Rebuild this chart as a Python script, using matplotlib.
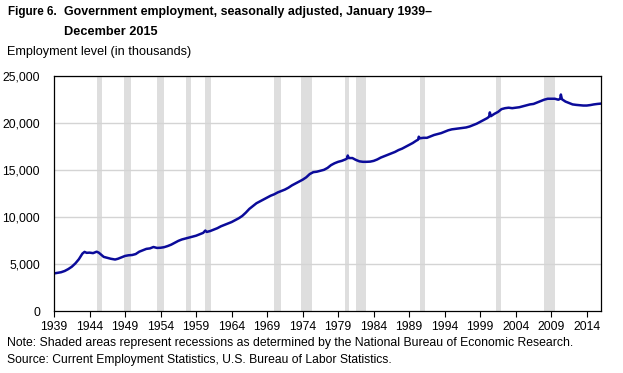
import numpy as np
import matplotlib
matplotlib.use("Agg")
import matplotlib.pyplot as plt

# government employment, thousands
years = [1939.0, 1939.5, 1940.0, 1940.5, 1941.0, 1941.5, 1942.0, 1942.5, 1943.0, 1943.3,
         1943.6, 1944.0, 1944.5, 1945.0, 1945.3, 1945.7, 1946.0, 1946.5, 1947.0, 1947.6,
         1948.0, 1948.5, 1949.0, 1949.5, 1950.0, 1950.5, 1951.0, 1951.5, 1952.0, 1952.5,
         1953.0, 1953.5, 1954.0, 1954.5, 1955.0, 1955.5, 1956.0, 1956.5, 1957.0, 1957.5,
         1958.0, 1958.5, 1959.0, 1959.5, 1960.0, 1960.3, 1960.5, 1961.0, 1961.5, 1962.0,
         1962.5, 1963.0, 1963.5, 1964.0, 1964.5, 1965.0, 1965.5, 1966.0, 1966.5, 1967.0,
         1967.5, 1968.0, 1968.5, 1969.0, 1969.5, 1970.0, 1970.5, 1971.0, 1971.5, 1972.0,
         1972.5, 1973.0, 1973.5, 1974.0, 1974.5, 1975.0, 1975.5, 1976.0, 1976.5, 1977.0,
         1977.5, 1978.0, 1978.5, 1979.0, 1979.5, 1980.0, 1980.25, 1980.35, 1980.5, 1981.0,
         1981.5, 1982.0, 1982.5, 1983.0, 1983.5, 1984.0, 1984.5, 1985.0, 1985.5, 1986.0,
         1986.5, 1987.0, 1987.5, 1988.0, 1988.5, 1989.0, 1989.5, 1990.0, 1990.25, 1990.35,
         1990.5, 1991.0, 1991.5, 1992.0, 1992.5, 1993.0, 1993.5, 1994.0, 1994.5, 1995.0,
         1995.5, 1996.0, 1996.5, 1997.0, 1997.5, 1998.0, 1998.5, 1999.0, 1999.5, 2000.0,
         2000.25, 2000.35, 2000.5, 2001.0, 2001.5, 2002.0, 2002.5, 2003.0, 2003.5, 2004.0,
         2004.5, 2005.0, 2005.5, 2006.0, 2006.5, 2007.0, 2007.5, 2008.0, 2008.5, 2009.0,
         2009.5, 2010.0, 2010.25, 2010.35, 2010.5, 2011.0, 2011.5, 2012.0, 2012.5, 2013.0,
         2013.5, 2014.0, 2014.5, 2015.0, 2015.5, 2015.92]
employment = [3990, 4050, 4120, 4250, 4450, 4700, 5050, 5500, 6100, 6280,
              6180, 6200, 6150, 6300, 6200, 5950, 5750, 5650, 5550, 5470,
              5550, 5700, 5850, 5920, 5950, 6050, 6300, 6450, 6600, 6650,
              6800, 6700, 6720, 6780, 6900, 7050, 7250, 7450, 7600, 7700,
              7800, 7900, 8000, 8150, 8300, 8550, 8400, 8500, 8650, 8800,
              9000, 9150, 9300, 9450, 9650, 9850, 10100, 10450, 10850, 11150,
              11450, 11650, 11850, 12050, 12250, 12400, 12600, 12750, 12900, 13100,
              13350, 13550, 13750, 13950, 14200, 14550, 14750, 14800, 14900, 15000,
              15200, 15500, 15700, 15850, 15950, 16100, 16200, 16520, 16250, 16250,
              16050, 15900, 15850, 15850, 15870, 15950, 16100, 16300, 16450, 16600,
              16750, 16900, 17100, 17250, 17450, 17650, 17850, 18100, 18200, 18520,
              18350, 18400, 18400, 18550, 18700, 18800, 18900, 19050, 19200, 19300,
              19350, 19400, 19450, 19500, 19600, 19750, 19900, 20100, 20300, 20500,
              20650, 21100, 20700, 20950, 21150, 21450, 21550, 21600, 21550, 21600,
              21650, 21750, 21850, 21950, 22000, 22150, 22300, 22450, 22550, 22550,
              22550, 22450, 22550, 23000, 22500, 22250, 22100, 21950, 21900, 21870,
              21830, 21830, 21880, 21950, 22000, 22030]

# NBER recessions (start, end)
rec_start = [1945.08, 1948.83, 1953.50, 1957.58, 1960.25, 1969.92, 1973.83, 1980.0, 1981.5, 1990.5, 2001.17, 2007.92]
rec_end = [1945.75, 1949.83, 1954.42, 1958.33, 1961.17, 1970.92, 1975.25, 1980.58, 1982.92, 1991.25, 2001.92, 2009.5]

xticks = list(range(1939, 2015, 5))
yticks = [0, 5000, 10000, 15000, 20000, 25000]

plt.rcParams['font.family'] = ['Liberation Sans', 'DejaVu Sans']

fig = plt.figure(figsize=(6.23, 3.73), dpi=100)
ax = fig.add_axes([54/623, 1-311/373, (601-54)/623, (311-75.7)/373])

for s, e in zip(rec_start, rec_end):
    ax.axvspan(s, e, color='#dedede', lw=0, zorder=1)

for y in yticks[1:]:
    ax.axhline(y, color='#d4d4d4', lw=1, zorder=1)

ax.plot(years, employment, color='#0b0b9a', lw=1.8, zorder=3)

ax.set_xlim(1939, 2016)
ax.set_ylim(0, 25000)
ax.set_xticks(xticks)
ax.set_xticklabels([str(x) for x in xticks], fontsize=8.8)
ax.set_yticks(yticks)
ax.set_yticklabels(['{:,}'.format(y) for y in yticks], fontsize=8.8)
ax.tick_params(axis='x', direction='out', length=4, width=0.8, pad=3)
ax.tick_params(axis='y', length=0, pad=10)
for sp in ax.spines.values():
    sp.set_linewidth(0.9)
    sp.set_zorder(4)

fig.canvas.draw()
renderer = fig.canvas.get_renderer()


def fit_text(x0, x1, yc, s, **kw):
    # put text from pixel x0, sized so it ends near pixel x1
    t = fig.text(x0/623, 1-yc/373, s, va='center', ha='left', fontsize=10, **kw)
    w = t.get_window_extent(renderer).width
    t.set_fontsize(10 * (x1 - x0) / w)
    return t


fit_text(8, 57, 12, 'Figure 6.', fontweight='bold')
fit_text(64, 431, 12, 'Government employment, seasonally adjusted, January 1939\u2013', fontweight='bold')
fit_text(64, 158, 32, 'December 2015', fontweight='bold')
fit_text(7, 190, 52, 'Employment level (in thousands)')
fit_text(7, 572, 343, 'Note: Shaded areas represent recessions as determined by the National Bureau of Economic Research.')
fit_text(7, 392, 360, 'Source: Current Employment Statistics, U.S. Bureau of Labor Statistics.')

fig.savefig('out.png', dpi=100)
